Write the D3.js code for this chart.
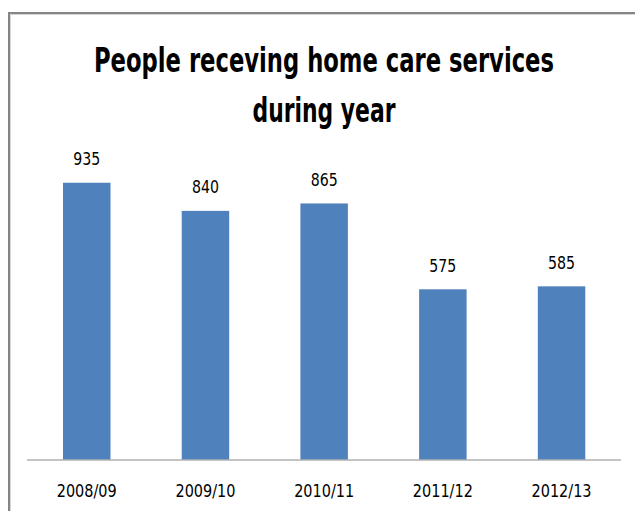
<!DOCTYPE html>
<html>
<head>
<meta charset="utf-8">
<script src="https://cdn.jsdelivr.net/npm/d3@7/dist/d3.min.js"></script>
<style>
  html, body { margin: 0; padding: 0; background: #fff; }
  svg { display: block; }
</style>
</head>
<body>
<svg id="chart" width="635" height="511"></svg>
<script>
const categories = ["2008/09", "2009/10", "2010/11", "2011/12", "2012/13"];
const values = [935, 840, 865, 575, 585];
const titleLines = ["People receving home care services", "during year"];

const svg = d3.select("#chart");
const W = 635, H = 511;
const FONT = "'Liberation Sans Narrow', 'DejaVu Sans Condensed', 'Liberation Sans', sans-serif";

svg.append("rect").attr("width", W).attr("height", H).attr("fill", "#fff");

// chart frame
svg.append("path")
  .attr("d", `M9,${H} L9,13 L${W},13`)
  .attr("fill", "none").attr("stroke", "#858585").attr("stroke-width", 2);
svg.append("path")
  .attr("d", `M10.5,${H} L10.5,14.5 L${W},14.5`)
  .attr("fill", "none").attr("stroke", "#d6d6d6").attr("stroke-width", 1);

const x = d3.scaleBand().domain(categories).range([27.4, 620.9]).paddingInner(0.6).paddingOuter(0.3);
const y = d3.scaleLinear().domain([0, 1000]).range([459.5, 163.5]);

// title
const titleW = [460, 143];
const titleY = [71.5, 122];
svg.selectAll("text.title").data(titleLines).join("text")
  .attr("class", "title")
  .attr("x", 324).attr("y", (d, i) => titleY[i])
  .attr("text-anchor", "middle")
  .attr("font-family", FONT).attr("font-weight", "bold")
  .attr("font-size", 34)
  .attr("textLength", (d, i) => titleW[i])
  .attr("lengthAdjust", "spacingAndGlyphs")
  .attr("fill", "#000")
  .text(d => d);

// bars
svg.selectAll("rect.bar").data(values).join("rect")
  .attr("class", "bar")
  .attr("x", (d, i) => x(categories[i]))
  .attr("width", x.bandwidth())
  .attr("y", d => y(d))
  .attr("height", d => y(0) - y(d))
  .attr("fill", "#4F81BD");

// value labels
svg.selectAll("text.val").data(values).join("text")
  .attr("class", "val")
  .attr("x", (d, i) => x(categories[i]) + x.bandwidth() / 2)
  .attr("y", d => y(d) - 17.5)
  .attr("text-anchor", "middle")
  .attr("font-family", FONT).attr("font-size", 17.5)
  .attr("textLength", 27).attr("lengthAdjust", "spacingAndGlyphs")
  .attr("fill", "#000")
  .text(d => d);

// x axis
const axis = d3.axisBottom(x).tickSize(0).tickPadding(0);
const gx = svg.append("g").attr("transform", `translate(0,${y(0)})`).call(axis);
gx.select(".domain").attr("d", `M27,0.5H621`).attr("stroke", "#898989").attr("stroke-width", 1);
gx.selectAll(".tick text")
  .attr("y", 37)
  .attr("dy", 0)
  .attr("font-family", FONT).attr("font-size", 17.5)
  .attr("textLength", 60).attr("lengthAdjust", "spacingAndGlyphs")
  .attr("fill", "#000");
</script>
</body>
</html>
